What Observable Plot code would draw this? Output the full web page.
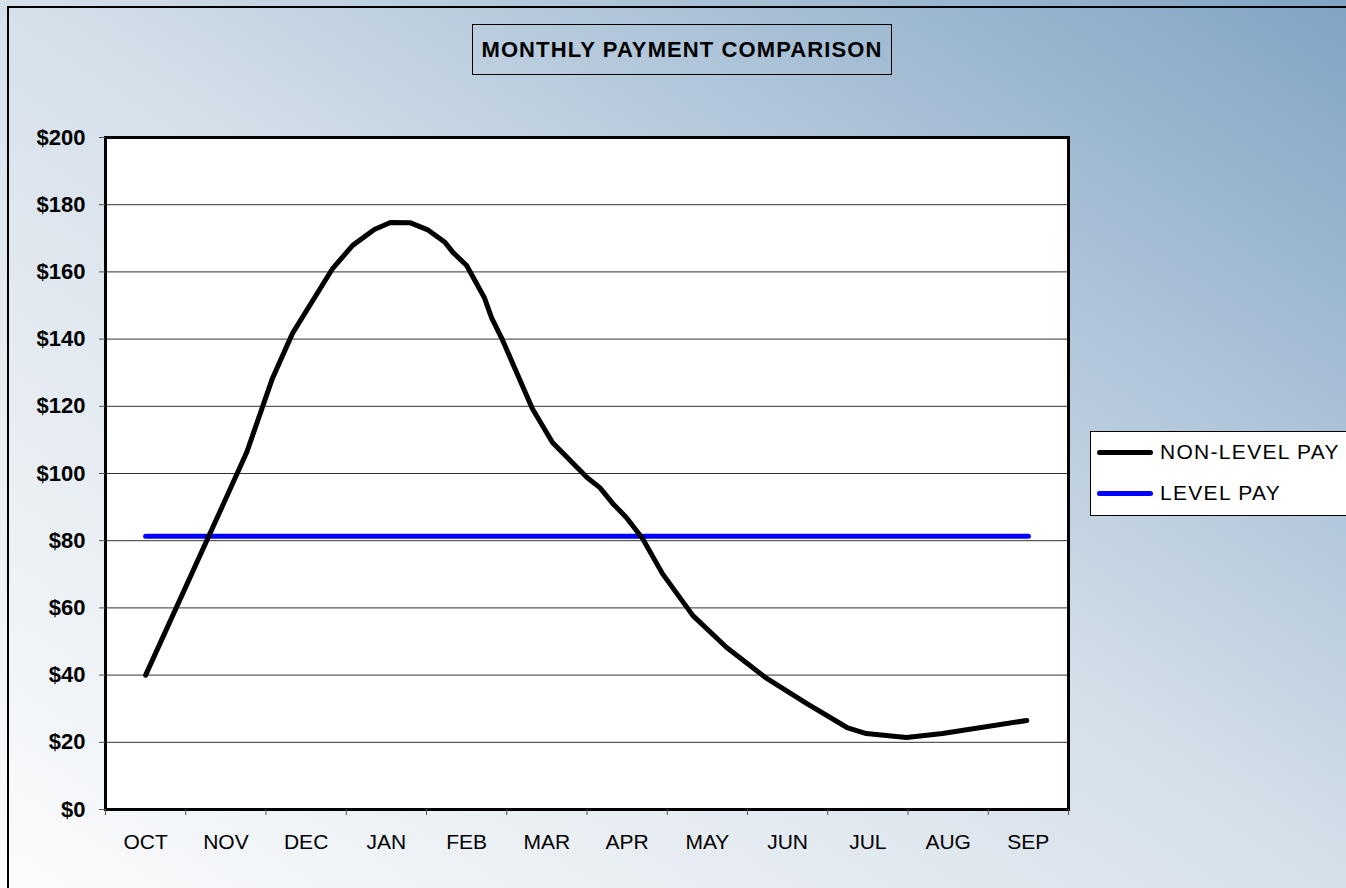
<!DOCTYPE html>
<html><head><meta charset="utf-8">
<script src="https://cdn.jsdelivr.net/npm/d3@7"></script>
<script src="https://cdn.jsdelivr.net/npm/@observablehq/plot@0.6"></script>
<style>
html,body{margin:0;padding:0;width:1346px;height:888px;overflow:hidden;}
body{position:relative;background:linear-gradient(to top right,#fbfcfd 0%,#d6e0ea 50%,#80a4c4 100%);font-family:Arial,"Liberation Sans",sans-serif;}
#outer{position:absolute;left:7px;top:6px;width:1400px;height:950px;border:2px solid #000;box-sizing:border-box;}
#chart{position:absolute;left:0;top:0;}
#title{position:absolute;left:472px;top:24px;width:420px;height:51px;box-sizing:border-box;border:1.5px solid #000;display:flex;align-items:center;justify-content:center;font-weight:bold;font-size:22px;color:#000;letter-spacing:1.1px;}
#legend{position:absolute;left:1090px;top:431px;width:300px;height:85px;box-sizing:border-box;border:1px solid #000;background:#fff;}
.row{position:absolute;left:0;height:30px;display:flex;align-items:center;}
.sw{position:absolute;left:6px;width:56px;height:5px;border-radius:3px;}
.lt{position:absolute;left:69px;font-size:21px;white-space:nowrap;color:#000;line-height:30px;letter-spacing:1.3px;}
</style>
</head><body>
<div id="outer"></div>
<div id="chart"></div>
<div id="title">MONTHLY PAYMENT COMPARISON</div>
<div id="legend"></div>
<script>
const months = ["OCT","NOV","DEC","JAN","FEB","MAR","APR","MAY","JUN","JUL","AUG","SEP"];
const yTicks = [0,20,40,60,80,100,120,140,160,180,200];
// non-level pay: position in months (0 = OCT) and payment
const nonLevelPos = [0,0.98,1.26,1.58,1.83,2.33,2.58,2.85,3.05,3.3,3.51,3.73,3.83,4.0,4.22,4.31,4.45,4.6,4.82,5.07,5.5,5.66,5.82,5.99,6.19,6.44,6.82,7.24,7.74,8.24,8.74,8.98,9.48,9.93,10.98];
const nonLevelPay = [40,91.5,106.3,128.3,141.7,161,167.9,172.6,174.7,174.6,172.6,168.8,165.8,161.9,152.4,146.4,139.6,131.3,119.3,109.2,98.8,95.8,91.1,86.9,80.7,70.2,57.7,48.2,39,31.5,24.4,22.6,21.4,22.6,26.5];
const levelPos = [0, 11];
const levelPay = [81.3, 81.3];
const seriesNames = ["NON-LEVEL PAY","LEVEL PAY"];
const seriesColors = ["#000000","#0000ff"];

const nonLevel = nonLevelPos.map((p,i)=>({x:p,y:nonLevelPay[i]}));
const level = levelPos.map((p,i)=>({x:p,y:levelPay[i]}));
const boundaries = d3.range(months.length+1).map(i=>i-0.5);

const chart = Plot.plot({
  width:1346, height:888,
  marginLeft:105, marginRight:278, marginTop:137, marginBottom:79,
  style:{background:"transparent", fontFamily:"Arial, 'Liberation Sans', sans-serif", overflow:"visible"},
  x:{domain:[-0.5, months.length-0.5]},
  y:{domain:[0,200]},
  marks:[
    Plot.frame({fill:"white"}),
    Plot.ruleY(yTicks.filter(d=>d>0&&d<200), {stroke:"#333", strokeWidth:1}),
    Plot.line(level, {x:"x", y:"y", stroke:seriesColors[1], strokeWidth:5, strokeLinecap:"round"}),
    Plot.line(nonLevel, {x:"x", y:"y", stroke:seriesColors[0], strokeWidth:5, strokeLinecap:"round", strokeLinejoin:"round"}),
    Plot.frame({stroke:"black", strokeWidth:3}),
    Plot.axisY({ticks:yTicks, tickFormat:d=>"$"+d, tickSize:6, tickPadding:14, fontSize:22, fontWeight:"bold", label:null, stroke:"#555"}),
    Plot.axisX({ticks:boundaries, tickFormat:()=>"", tickSize:6, label:null, stroke:"#555"}),
    Plot.axisX({ticks:d3.range(months.length), tickFormat:i=>months[i], tickSize:0, tickPadding:25, fontSize:21, label:null, style:{letterSpacing:"0.5px"}})
  ]
});
document.getElementById("chart").appendChild(chart);

const leg = document.getElementById("legend");
seriesNames.forEach((n,i)=>{
  const row = document.createElement("div");
  row.className="row";
  row.style.top = (5 + i*41) + "px";
  row.style.width = "100%";
  row.innerHTML = `<div class="sw" style="background:${seriesColors[i]};top:12.5px"></div><div class="lt" style="top:0">${n}</div>`;
  leg.appendChild(row);
});
</script>
</body></html>
